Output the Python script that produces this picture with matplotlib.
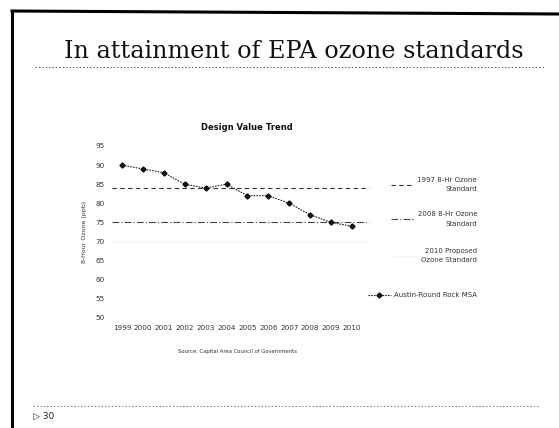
import matplotlib
matplotlib.use("Agg")
import matplotlib.pyplot as plt
from matplotlib.lines import Line2D

# data
years = ['1999', '2000', '2001', '2002', '2003', '2004', '2005', '2006', '2007', '2008', '2009', '2010']
austin = [90, 89, 88, 85, 84, 85, 82, 82, 80, 77, 75, 74]
std_1997 = 84
std_2008 = 75
std_2010 = 70
y_ticks = [50, 55, 60, 65, 70, 75, 80, 85, 90, 95]

W, H = 559, 428
fig = plt.figure(figsize=(W / 100, H / 100), dpi=100)

def fx(px):
    return px / W

def fy(py):
    return 1 - py / H

# slide border (scan edges)
fig.add_artist(Line2D([fx(12), fx(12)], [fy(11), fy(428)], color='black', lw=2.2))
fig.add_artist(Line2D([fx(12), fx(559)], [fy(11), fy(14)], color='black', lw=2.2))

# slide title + dotted rules
fig.text(fx(294), fy(58), 'In attainment of EPA ozone standards', family='DejaVu Serif',
         fontsize=17.2, ha='center', va='baseline', color='#111111')
fig.add_artist(Line2D([fx(35), fx(545)], [fy(67), fy(67)], color='#555555', lw=0.7, ls=(0, (1.5, 2))))
fig.add_artist(Line2D([fx(33), fx(540)], [fy(406), fy(406)], color='#777777', lw=0.7, ls=(0, (1.5, 2))))
fig.text(fx(33), fy(416), '\u25b7 30', fontsize=6.5, va='center', ha='left', color='#222222')

# chart
ax = fig.add_axes([fx(111.5), fy(318), fx(362.5) - fx(111.5), fy(146) - fy(318)])
x = list(range(len(years)))
h1, = ax.plot([-0.5, 11.8], [std_1997, std_1997], color='#333333', lw=0.8, ls=(0, (4, 3)),
              clip_on=False)
h2, = ax.plot([-0.5, 11.8], [std_2008, std_2008], color='#444444', lw=0.8, ls=(0, (6, 2, 1, 2)),
              clip_on=False)
h3, = ax.plot([-0.5, 11.8], [std_2010, std_2010], color='#f4f4f4', lw=0.8, clip_on=False)
h4, = ax.plot(x, austin, color='#222222', lw=0.8, ls=(0, (1.5, 1)), marker='D', ms=2.6,
              mfc='#111111', mec='#111111', clip_on=False)

ax.set_xlim(-0.5, 11.5)
ax.set_ylim(50, 95)
ax.set_xticks(x)
ax.set_xticklabels(years)
ax.set_yticks(y_ticks)
ax.tick_params(length=0, labelsize=5.2, colors='#333333', pad=5)
for s in ax.spines.values():
    s.set_visible(False)
ax.set_facecolor('none')
ax.set_ylabel('8-Hour Ozone (ppb)', fontsize=4.5, color='#333333', labelpad=6)

fig.text(fx(247), fy(128), 'Design Value Trend', fontsize=6, fontweight='bold',
         ha='center', va='center', color='#111111')
fig.text(fx(237), fy(352), 'Source: Capital Area Council of Governments', fontsize=3.8,
         ha='center', va='center', color='#333333')

# legend: each entry right-aligned to the same column, like the Excel chart
entries = [(h1, '1997 8-Hr Ozone\nStandard', 184.5),
           (h2, '2008 8-Hr Ozone\nStandard', 219),
           (h3, '2010 Proposed\nOzone Standard', 255.5),
           (h4, 'Austin-Round Rock MSA', 295)]
for handle, label, ypx in entries:
    leg = fig.legend([handle], [label], loc='center right', bbox_to_anchor=(fx(477), fy(ypx)),
                     frameon=False, fontsize=5, handlelength=3.3, handletextpad=0.5,
                     borderpad=0, borderaxespad=0)
    for t in leg.get_texts():
        t.set_multialignment('right')
        t.set_linespacing(1.7)
        t.set_color('#333333')

fig.savefig('out.png', dpi=100, facecolor='white')
